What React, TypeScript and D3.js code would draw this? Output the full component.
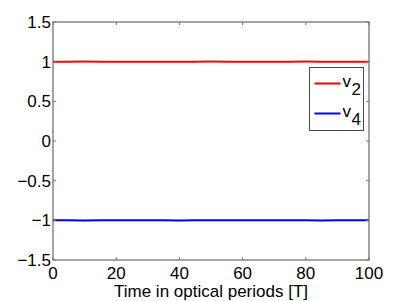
import { useRef, useEffect } from 'react'
import * as d3 from 'd3'

const time = [0, 5, 10, 15, 20, 25, 30, 35, 40, 45, 50, 55, 60, 65, 70, 75, 80, 85, 90, 95, 100]
const v2 = [1.0, 0.999, 1.001, 0.9995, 1.0005, 1.0, 0.999, 1.0005, 1.0, 0.9995, 1.001, 1.0, 0.9995, 1.0005, 0.999, 1.0, 1.001, 0.9995, 1.0, 1.0005, 1.0]
const v4 = [-1.0, -0.999, -1.001, -1.0, -0.9995, -1.0005, -1.0, -0.999, -1.001, -1.0, -0.9995, -1.0005, -1.0, -0.999, -1.0005, -1.0, -0.9995, -1.001, -1.0, -0.9995, -1.0]
const xTicks = [0, 20, 40, 60, 80, 100]
const yTicks = [-1.5, -1, -0.5, 0, 0.5, 1, 1.5]
const series = [
  { name: '2', values: v2, color: '#ff0000' },
  { name: '4', values: v4, color: '#0000ff' },
]

const width = 407
const height = 301
const margin = { left: 53, right: 38, top: 22, bottom: 41 }

const App = () => {
  const elRef = useRef<SVGSVGElement>(null)

  useEffect(() => {
    const svg = d3.select(elRef.current as SVGSVGElement)
    svg.selectAll('*').remove()
    const x = d3.scaleLinear().domain([0, 100]).range([margin.left, width - margin.right])
    const y = d3.scaleLinear().domain([-1.5, 1.5]).range([height - margin.bottom, margin.top])
    const font = 'Liberation Sans, Arial, Helvetica, sans-serif'
    const fs = 17

    svg.append('rect').attr('width', width).attr('height', height).attr('fill', '#fff')

    const lineGen = d3
      .line<number>()
      .x((_, i) => x(time[i]))
      .y((d) => y(d))

    series.forEach((s) => {
      svg
        .append('path')
        .attr('d', lineGen(s.values))
        .attr('fill', 'none')
        .attr('stroke', s.color)
        .attr('stroke-width', 2)
    })

    const [x0, x1] = x.range()
    const [y0, y1] = y.range()
    const tickLen = 3
    const axisColor = '#4a4a4a'

    // box
    svg
      .append('rect')
      .attr('x', x0)
      .attr('y', y1)
      .attr('width', x1 - x0)
      .attr('height', y0 - y1)
      .attr('fill', 'none')
      .attr('stroke', axisColor)
      .attr('stroke-width', 1)

    const g = svg.append('g').attr('stroke', '#777').attr('stroke-width', 1)
    xTicks.forEach((t) => {
      g.append('line').attr('x1', x(t)).attr('x2', x(t)).attr('y1', y0).attr('y2', y0 - tickLen)
      g.append('line').attr('x1', x(t)).attr('x2', x(t)).attr('y1', y1).attr('y2', y1 + tickLen)
    })
    yTicks.forEach((t) => {
      g.append('line').attr('x1', x0).attr('x2', x0 + tickLen).attr('y1', y(t)).attr('y2', y(t))
      g.append('line').attr('x1', x1).attr('x2', x1 - tickLen).attr('y1', y(t)).attr('y2', y(t))
    })

    svg
      .selectAll('text.xt')
      .data(xTicks)
      .enter()
      .append('text')
      .attr('x', (d) => x(d))
      .attr('y', y0 + 19)
      .attr('text-anchor', 'middle')
      .attr('font-family', font)
      .attr('font-size', fs)
      .text((d) => String(d))

    svg
      .selectAll('text.yt')
      .data(yTicks)
      .enter()
      .append('text')
      .attr('x', x0 - 2)
      .attr('y', (d) => y(d) + 6)
      .attr('text-anchor', 'end')
      .attr('font-family', font)
      .attr('font-size', fs)
      .text((d) => String(d).replace('-', '\u2212'))

    svg
      .append('text')
      .attr('x', (x0 + x1) / 2)
      .attr('y', height - 4)
      .attr('text-anchor', 'middle')
      .attr('font-family', font)
      .attr('font-size', fs)
      .text('Time in optical periods [T]')

    // legend
    const lg = svg.append('g').attr('transform', 'translate(309.5,67.5)')
    lg.append('rect')
      .attr('width', 54)
      .attr('height', 63)
      .attr('fill', '#fff')
      .attr('stroke', axisColor)
    series.forEach((s, i) => {
      const cy = 16 + i * 30
      lg.append('line')
        .attr('x1', 5)
        .attr('x2', 31)
        .attr('y1', cy)
        .attr('y2', cy)
        .attr('stroke', s.color)
        .attr('stroke-width', 2)
      const t = lg
        .append('text')
        .attr('x', 33)
        .attr('y', cy + 3)
        .attr('font-family', font)
        .attr('font-size', fs)
      t.append('tspan').text('v')
      t.append('tspan').attr('dy', 8).attr('dx', 0.5).text(s.name)
    })
  }, [])

  return <svg ref={elRef} width={width} height={height} style={{ display: 'block', position: 'absolute', left: 0, top: 0 }} />
}

export default App
